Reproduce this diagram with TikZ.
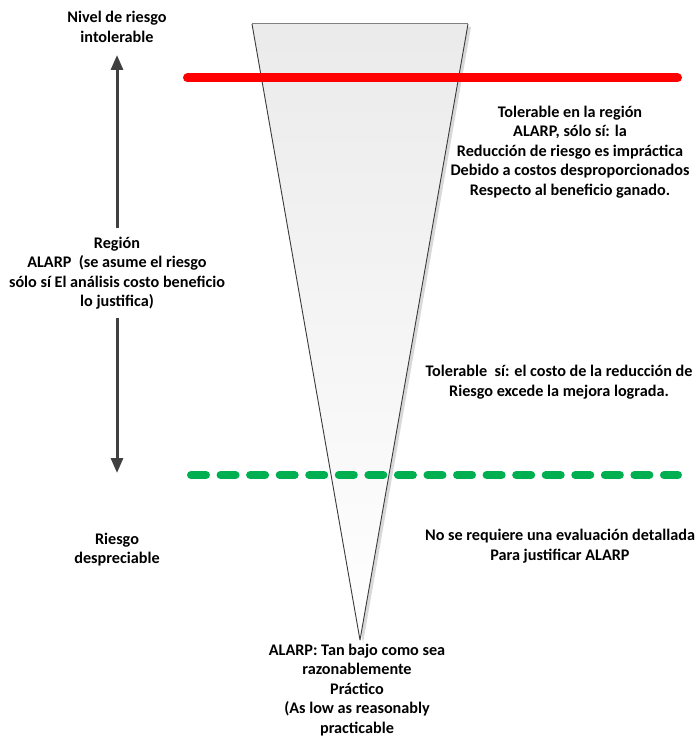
\documentclass[tikz,border=0pt]{standalone}
\usepackage{fontspec}
\setmainfont{Carlito}
\usetikzlibrary{arrows.meta}
\definecolor{alarpred}{HTML}{FF0000}
\definecolor{alarpgreen}{HTML}{00B050}
\definecolor{arrowgray}{HTML}{404040}
\definecolor{edgegray}{HTML}{3A3A3A}
\begin{document}
\begin{tikzpicture}[x=1pt,y=-1pt,
  lbl/.style={align=center,inner sep=0pt,font=\bfseries\fontsize{16.2}{19.5}\selectfont},
  limitline/.style={line width=9pt,line cap=round,alarpred},
  negligline/.style={line width=8pt,line cap=round,alarpgreen,dash pattern=on 15pt off 14.56pt},
  rangearrow/.style={line width=3pt,arrowgray,-{Triangle[length=15pt,width=12pt]}}]
\useasboundingbox (0,0) rectangle (698,738);
% funnel: drop shadow, shaded body, outline
\coordinate (tl) at (252,24);
\coordinate (tr) at (468,24);
\coordinate (tip) at (360,640);
\fill[gray!30] ([shift={(3,3)}]tl) -- ([shift={(3,3)}]tr) -- ([shift={(3,3)}]tip) -- cycle;
\shade[top color=black!8,bottom color=white] (tl) -- (tr) -- (tip) -- cycle;
\draw[gray,line width=1pt] (tl) -- (tr);
\draw[edgegray,line width=0.9pt,line join=round] (tr) -- (tip) -- (tl);
% limit lines
\coordinate (redL) at (187.5,78);
\coordinate (redR) at (677.5,78);
\draw[limitline] (redL) -- (redR);
\coordinate (greenL) at (191,475);
\coordinate (greenR) at (678,475);
\draw[negligline] (greenL) -- (greenR);
% left column
\node[lbl] (intol) at (117,27) {Nivel de riesgo\\intolerable};
\node[lbl,inner ysep=8pt] (region) at (117,273) {Región\\ALARP\ \ (se asume el riesgo\\sólo sí El análisis costo beneficio\\lo justifica)};
\node[lbl] (despr) at (117,549.5) {Riesgo\\despreciable};
\coordinate (uptip) at (117,55);
\coordinate (downtip) at (117,473);
\draw[rangearrow] (region.north) -- (uptip);
\draw[rangearrow] (region.south) -- (downtip);
% right column
\node[lbl] (tolreg) at (570,152) {Tolerable en la región\\ALARP, sólo sí: la\\Reducción de riesgo es impráctica\\Debido a costos desproporcionados\\Respecto al beneficio ganado.};
\node[lbl] (tolsi) at (559,382) {Tolerable\ \ sí: el costo de la reducción de\\Riesgo excede la mejora lograda.};
\node[lbl] (noreq) at (560,546) {No se requiere una evaluación detallada\\Para justificar ALARP};
% caption under the tip
\node[lbl] (alarp) at (357,690) {ALARP: Tan bajo como sea\\razonablemente\\Práctico\\(As low as reasonably\\practicable};
\end{tikzpicture}
\end{document}
